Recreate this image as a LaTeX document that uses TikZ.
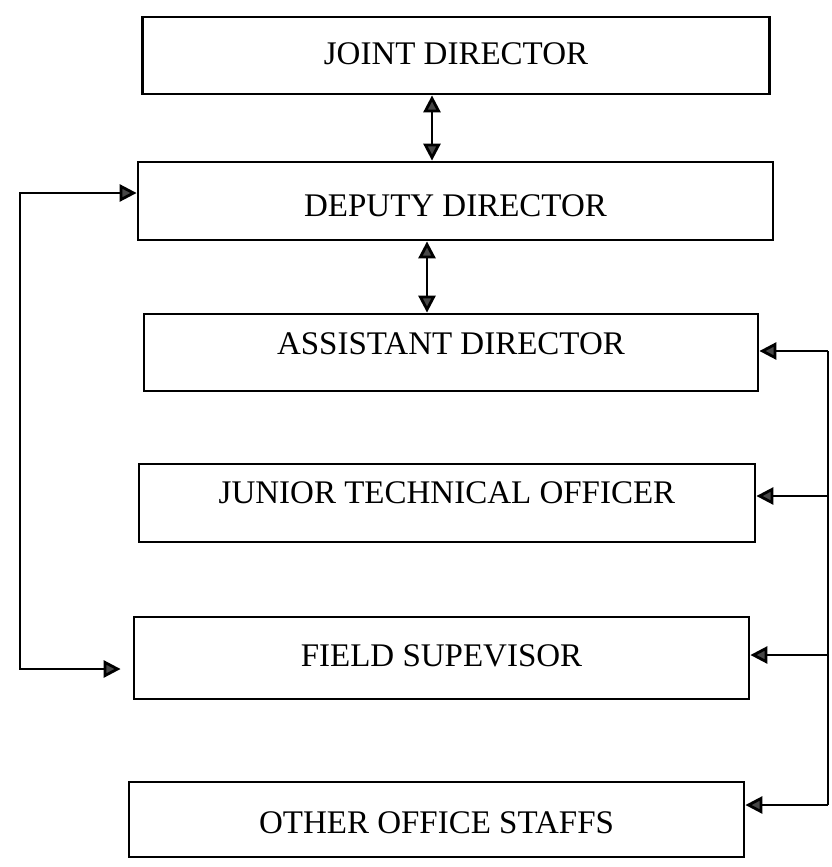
\documentclass[tikz,border=0pt]{standalone}
\usepackage{fontspec}
\setmainfont{Liberation Serif}
\usetikzlibrary{arrows.meta}
\begin{document}
\begin{tikzpicture}[x=1pt,y=-1pt,
  box/.style={draw, line width=2.8pt, inner sep=0pt,
    text height=23pt, text depth=0pt,
    font=\fontsize{33}{38}\selectfont},
  link/.style={line width=2.8pt},
  tipend/.style={-{Triangle[length=17pt,width=17pt,fill=black!72]}},
  tipboth/.style={{Triangle[length=17pt,width=17pt,fill=black!72]}-{Triangle[length=17pt,width=17pt,fill=black!72]}}
]
\useasboundingbox (0,0) rectangle (832,867);

% the six posts, top to bottom
\node[box, minimum width=627pt, minimum height=77pt, text depth=5pt]  (jd)  at (456,55.5)  {JOINT DIRECTOR};
\node[box, minimum width=635pt, minimum height=78pt, text height=31pt] (dd) at (455.5,201) {DEPUTY DIRECTOR};
\node[box, minimum width=614pt, minimum height=77pt, text depth=20pt] (ad)  at (451,352.5) {ASSISTANT DIRECTOR};
\node[box, minimum width=616pt, minimum height=78pt, text depth=22pt] (jto) at (447,503)   {JUNIOR TECHNICAL OFFICER};
\node[box, minimum width=615pt, minimum height=82pt, text depth=6pt]  (fs)  at (441.5,658) {FIELD SUPEVISOR};
\node[box, minimum width=615pt, minimum height=75pt, text height=28pt] (oos) at (436.5,819.5) {OTHER OFFICE STAFFS};

% vertical two-way links
\coordinate (ax1) at (432,0);
\coordinate (ax2) at (427,0);
\draw[link, tipboth] (jd.south -| ax1) -- (dd.north -| ax1);
\draw[link, tipboth] (dd.south -| ax2) -- (ad.north -| ax2);

% left loop: deputy director <-> field supervisor
\coordinate (l1) at (20,193);
\coordinate (l2) at (20,669);
\draw[link, tipboth] (dd.west |- l1) -- (l1) -- (l2) -- ([xshift=-12pt]fs.west |- l2);

% right bus feeding the lower posts
\coordinate (r1) at (828,351);
\coordinate (r2) at (828,496);
\coordinate (r3) at (828,655);
\coordinate (r4) at (828,805);
\draw[link] (r1) -- (r4);
\draw[link, tipend] (r1) -- (ad.east |- r1);
\draw[link, tipend] (r2) -- (jto.east |- r2);
\draw[link, tipend] (r3) -- (fs.east |- r3);
\draw[link, tipend] (r4) -- (oos.east |- r4);
\end{tikzpicture}
\end{document}
